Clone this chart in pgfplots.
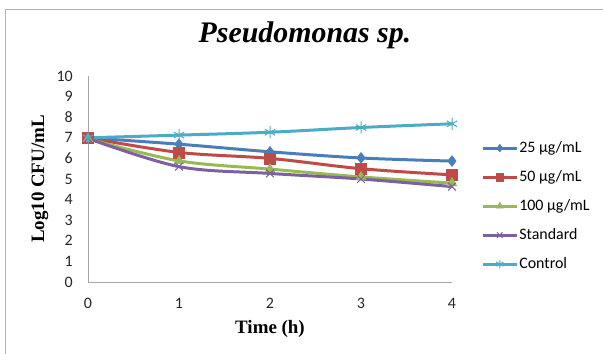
\documentclass[border=0pt]{standalone}
\usepackage{fontspec}
\setmainfont{Liberation Serif}
\newfontfamily\calib{Carlito}
\usepackage{pgfplots}
\pgfplotsset{compat=1.18}
\definecolor{cBlue}{HTML}{4A7EBB}
\definecolor{cRed}{HTML}{BE4B48}
\definecolor{cGreen}{HTML}{98B954}
\definecolor{cPurple}{HTML}{7D60A0}
\definecolor{cCyan}{HTML}{4BACC6}
\pgfplotsset{ser/.style={line width=3bp, smooth, tension=0.55}}
\begin{document}
\begin{tikzpicture}
\path[use as bounding box] (0,0) rectangle (603bp,354bp);
\draw[gray!60, line width=1bp] (5bp,0) -- (5bp,344bp) -- (603bp,344bp);
\begin{axis}[
  at={(88bp,72bp)}, anchor=south west,
  scale only axis, width=364bp, height=206bp,
  xmin=0, xmax=4, ymin=0, ymax=10,
  xtick={0,1,2,3,4}, ytick={0,1,...,10},
  axis lines*=left,
  axis line style={gray!70, line width=0.8bp},
  major tick length=0pt,
  clip=false,
  /pgf/number format/assume math mode=true,
  tick label style={font=\calib\fontsize{16}{16}\selectfont, text=black!85},
  yticklabel style={anchor=east, inner sep=0pt, xshift=-15bp},
  xticklabel style={anchor=north, inner sep=0pt, yshift=-16bp},
  title={\bfseries\itshape\fontsize{30}{30}\selectfont Pseudomonas sp.},
  title style={at={(axis description cs:0.596,1.136)}, anchor=base, inner sep=0pt},
  xlabel={\bfseries\fontsize{19}{19}\selectfont Time (h)},
  xlabel style={at={(axis description cs:0.5,-0.252)}, anchor=base, inner sep=0pt},
  ylabel={\bfseries\fontsize{19}{19}\selectfont Log10 CFU/mL},
  ylabel style={at={(axis description cs:-0.132,0.5)}, anchor=center, rotate=0, inner sep=0pt},
  legend style={at={(axis description cs:1.08,0.685)}, anchor=north west,
    draw=none, fill=none, inner sep=0pt, row sep=15bp, column sep=1bp,
    font=\calib\fontsize{16}{16}\selectfont,
    nodes={inner sep=0pt, text height=11bp, text depth=3bp}},
  legend cell align=left,
  legend image code/.code={\draw[mark repeat=2,mark phase=2, line width=3bp, sharp plot, /tikz/every mark/.append style={scale=0.7}] plot coordinates {(0bp,0bp) (17bp,0bp) (34bp,0bp)};},
]
\addplot[ser, cBlue, mark=diamond*, mark size=5.5bp, mark options={solid, line width=0.5bp, fill=cBlue}]
  coordinates {(0,7.0) (1,6.69) (2,6.32) (3,6.02) (4,5.87)};
\addlegendentry{25 µg/mL}
\addplot[ser, cRed, mark=square*, mark size=5.5bp, mark options={solid, line width=0.5bp, fill=cRed}]
  coordinates {(0,7.0) (1,6.29) (2,6.0) (3,5.5) (4,5.2)};
\addlegendentry{50 µg/mL}
\addplot[ser, cGreen, mark=triangle*, mark size=5.5bp, mark options={solid, line width=0.5bp, fill=cGreen}]
  coordinates {(0,6.95) (1,5.88) (2,5.48) (3,5.1) (4,4.8)};
\addlegendentry{100 µg/mL}
\addplot[ser, cPurple, mark=x, mark size=5.5bp, mark options={solid, line width=1bp}]
  coordinates {(0,6.97) (1,5.6) (2,5.27) (3,5.0) (4,4.63)};
\addlegendentry{Standard}
\addplot[ser, cCyan, mark=asterisk, mark size=6bp, mark options={solid, line width=1bp}]
  coordinates {(0,7.0) (1,7.13) (2,7.27) (3,7.5) (4,7.68)};
\addlegendentry{Control}
\end{axis}
\end{tikzpicture}
\end{document}
